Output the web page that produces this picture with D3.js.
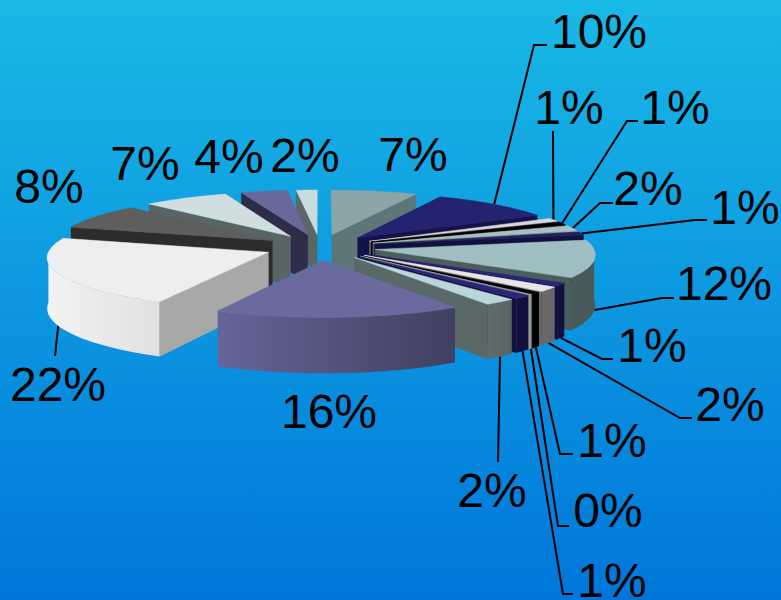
<!DOCTYPE html>
<html>
<head>
<meta charset="utf-8">
<script src="https://cdnjs.cloudflare.com/ajax/libs/d3/7.8.5/d3.min.js"></script>
<style>
html, body { margin: 0; padding: 0; background: #0078db; overflow: hidden; }
svg { display: block; }
text { font-family: "Liberation Sans", Arial, sans-serif; font-size: 48px; fill: #000; }
</style>
</head>
<body>
<div id="chart"></div>
<script>
// slice values, clockwise from 12 o'clock
var values = [7.0, 10.0, 1.1, 1.0, 1.9, 1.0, 12.0, 1.0, 1.6, 0.7, 0.15, 1.2, 2.15, 16.45, 22.25, 8.0, 7.0, 3.8, 1.7];

var topColors  = ["#8ca5a8", "#232370", "#d8d8d8", "#000000", "#a6c0c4", "#23205f", "#9fbfc2", "#2a2578", "#e6e6ea", "#000000", "#9aa8a8", "#2a2578", "#b9d6da", "#6a6a9e", "#eeeeee", "#5e5e5e", "#cfdfe0", "#68689a", "#c8dcde"];
var wallColors = ["#5f7678", "#14124a", "#6a6a6a", "#000000", "#5a6a6a", "#12103e", "#4b5c5c", "#12103e", "#686868", "#000000", "#9aa4a2", "#12103e", "#5a6868", "#45456a", "#a8a8a8", "#2c2c2c", "#596464", "#2e2c48", "#5c6664"];
var arcFrom    = ["#5f7678", "#14124a", "#6a6a6a", "#000000", "#5a6a6a", "#12103e", "#4a5a5a", "#12103e", "#686868", "#000000", "#9aa4a2", "#12103e", "#5e6c6c", "#65659a", "#f3f3f3", "#2c2c2c", "#596464", "#2e2c48", "#5c6664"];
var arcTo      = ["#5f7678", "#14124a", "#6a6a6a", "#000000", "#5a6a6a", "#12103e", "#4a5a5a", "#12103e", "#686868", "#000000", "#9aa4a2", "#12103e", "#566464", "#40405f", "#e0e0e0", "#2c2c2c", "#596464", "#2e2c48", "#5c6664"];

// label placement, same order as values
var labelX = [413, 599, 569, 675, 648, 745, 724, 652, 730, 612, 608, 612, 492, 329, 58, 49, 145, 229, 305];
var labelY = [171, 48, 124, 124, 205, 224, 300, 362, 421, 457, 527, 597, 507, 428, 401, 203, 180, 173, 172];
// leader line bends: [elbowX, elbowY, endX, endY]
var leaders = [null, [534, 45, 547, 45], [553, 131, 553, 131], [627, 121, 638, 121], [600, 203, 613, 203], [695, 220, 707, 220], [662, 298, 674, 298], [602, 359, 613, 359], [680, 418, 692, 418], [560, 454, 573, 454], [558, 526, 569, 526], [563, 594, 573, 594], [498, 462, 498, 462], null, [55, 356, 55, 356], null, null, null, null];

var W = 781, H = 600;
var cx = 320, cy = 247;      // centre of the pie on screen
var R = 218, E = 56;         // radius, explode distance
var tilt = 0.23, depth = 50, persp = 2600;

var svg = d3.select("#chart").append("svg").attr("width", W).attr("height", H);
var defs = svg.append("defs");

var bg = defs.append("linearGradient").attr("id", "bg").attr("x1", 0).attr("y1", 0).attr("x2", 0).attr("y2", 1);
bg.append("stop").attr("offset", 0).attr("stop-color", "#19b9e6");
bg.append("stop").attr("offset", 1).attr("stop-color", "#0076da");
svg.append("rect").attr("width", W).attr("height", H).attr("fill", "url(#bg)");

var pie = d3.pie().sort(null);
var arcs = pie(values).map(function (d, i) {
	d.i = i;
	d.mid = (d.startAngle + d.endAngle) / 2;
	return d;
});

// disc coords -> screen. a = clockwise angle from north, r = radius, z = drop below the top face
function project(d, a, r, z) {
	var gx = E * Math.sin(d.mid) + r * Math.sin(a);
	var gy = -E * Math.cos(d.mid) - r * Math.cos(a);
	var s = 1 / (1 - gy / persp);
	return [cx + gx * s, cy + tilt * gy * s + z * s];
}

function arcPts(d, a0, a1, z) {
	var n = Math.max(2, Math.ceil((a1 - a0) / 0.03));
	return d3.range(n + 1).map(function (k) {
		return project(d, a0 + (a1 - a0) * k / n, R, z);
	});
}

var line = d3.line();
function closed(pts) { return line(pts) + "Z"; }

// leaders go under the slices
var leaderG = svg.append("g");
arcs.forEach(function (d) {
	var l = leaders[d.i];
	if (!l) return;
	var front = Math.cos(d.mid) < 0;
	var p0 = project(d, d.mid, R, front ? depth : 0);
	leaderG.append("path")
		.attr("d", line([p0, [l[0], l[1]], [l[2], l[3]]]))
		.attr("fill", "none").attr("stroke", "#000").attr("stroke-width", 2);
});

// back to front
var order = arcs.slice().sort(function (a, b) { return d3.ascending(-Math.cos(a.mid), -Math.cos(b.mid)); });
var pieG = svg.append("g");

order.forEach(function (d) {
	var g = pieG.append("g");
	var a0 = d.startAngle, a1 = d.endAngle;

	// the radial wall that faces the viewer
	[a0 > Math.PI ? a0 : null, a1 < Math.PI ? a1 : null].forEach(function (a) {
		if (a === null) return;
		var apexTop = project(d, a, 0, 0), apexBot = project(d, a, 0, depth);
		var rimTop = project(d, a, R, 0), rimBot = project(d, a, R, depth);
		g.append("path").attr("d", closed([apexTop, rimTop, rimBot, apexBot]))
			.attr("fill", wallColors[d.i]).attr("stroke", wallColors[d.i]).attr("stroke-width", 0.5);
	});

	// outer wall, front half only
	var w0 = Math.max(a0, Math.PI / 2), w1 = Math.min(a1, Math.PI * 1.5);
	if (w1 > w0) {
		var id = "wall" + d.i;
		var gr = defs.append("linearGradient").attr("id", id).attr("x1", 0).attr("y1", 0).attr("x2", 1).attr("y2", 0);
		gr.append("stop").attr("offset", 0).attr("stop-color", arcFrom[d.i]);
		gr.append("stop").attr("offset", 1).attr("stop-color", arcTo[d.i]);
		var upper = arcPts(d, w0, w1, 0), lower = arcPts(d, w0, w1, depth).reverse();
		g.append("path").attr("d", closed(upper.concat(lower))).attr("fill", "url(#" + id + ")");
	}

	// top face
	var rim = arcPts(d, a0, a1, 0);
	g.append("path").attr("d", closed([project(d, a0, 0, 0)].concat(rim)))
		.attr("fill", topColors[d.i]).attr("stroke", topColors[d.i]).attr("stroke-width", 0.5);
});

svg.append("g").selectAll("text").data(arcs).enter().append("text")
	.attr("x", function (d) { return labelX[d.i]; })
	.attr("y", function (d) { return labelY[d.i]; })
	.attr("text-anchor", "middle")
	.text(function (d) { return Math.round(d.value) + "%"; });
</script>
</body>
</html>
